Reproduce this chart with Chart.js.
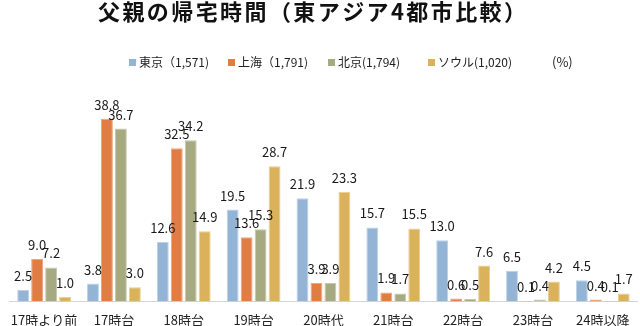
<!DOCTYPE html>
<html><head><meta charset="utf-8">
<script src="https://cdn.jsdelivr.net/npm/chart.js@4"></script>
<style>html,body{margin:0;padding:0;background:#fff}#wrap{width:640px;height:326px}</style>
</head><body><div id="wrap"><canvas id="c" width="640" height="326"></canvas></div>
<script>
const title = '父親の帰宅時間（東アジア4都市比較）';
const unitLabel = '(%)';
const categories = ['17時より前','17時台','18時台','19時台','20時代','21時台','22時台','23時台','24時以降'];
const seriesNames = ['東京（1,571)','上海（1,791)','北京(1,794)','ソウル(1,020)'];
const tokyo    = [2.5, 3.8, 12.6, 19.5, 21.9, 15.7, 13.0, 6.5, 4.5];
const shanghai = [9.0, 38.8, 32.5, 13.6, 3.9, 1.9, 0.6, 0.1, 0.4];
const beijing  = [7.2, 36.7, 34.2, 15.3, 3.9, 1.7, 0.5, 0.4, 0.1];
const seoul    = [1.0, 3.0, 14.9, 28.7, 23.3, 15.5, 7.6, 4.2, 1.7];

const FONT = '"Noto Sans CJK JP", "Noto Sans", sans-serif';
const fills = ['#93B4D4','#E07D45','#A5AA80','#D9B25B'];
const borders = ['#BDD2E6','#EDA57C','#C6CAAB','#EACF8E'];
const series = [tokyo, shanghai, beijing, seoul];

const overlay = {
  id: 'overlay',
  afterDraw(chart) {
    const ctx = chart.ctx;
    ctx.save();
    // title
    ctx.fillStyle = '#111';
    ctx.font = 'bold 22px ' + FONT;
    const w = ctx.measureText(title).width;
    const ls = Math.max(0, (428 - w) / (title.length - 1));
    ctx.letterSpacing = ls + 'px';
    ctx.textAlign = 'left';
    ctx.textBaseline = 'middle';
    ctx.fillText(title, 98, 12);
    ctx.letterSpacing = '0px';
    // legend
    const lx = [129, 228, 328, 428];
    ctx.font = '12px ' + FONT;
    chart.data.datasets.forEach((ds, i) => {
      ctx.fillStyle = ds.backgroundColor;
      ctx.fillRect(lx[i], 59, 7, 7);
      ctx.fillStyle = '#222';
      ctx.fillText(ds.label, lx[i] + 10, 62);
    });
    ctx.font = '13px ' + FONT;
    ctx.fillText(unitLabel, 552, 62);
    // data labels
    ctx.font = '13px ' + FONT;
    ctx.textAlign = 'center';
    ctx.textBaseline = 'alphabetic';
    ctx.fillStyle = '#1a1a1a';
    chart.data.datasets.forEach((ds, i) => {
      const meta = chart.getDatasetMeta(i);
      meta.data.forEach((bar, j) => {
        ctx.fillText(ds.data[j].toFixed(1), bar.x, bar.y - 9);
      });
    });
    ctx.restore();
  }
};

new Chart(document.getElementById('c'), {
  type: 'bar',
  data: {
    labels: categories,
    datasets: series.map((d, i) => ({
      label: seriesNames[i],
      data: d,
      backgroundColor: fills[i],
      borderColor: borders[i],
      borderWidth: 1,
      categoryPercentage: 0.8,
      barPercentage: 0.85
    }))
  },
  options: {
    responsive: false,
    animation: false,
    devicePixelRatio: 1,
    layout: { padding: { top: 113, left: 0, right: 0, bottom: -13 } },
    plugins: { legend: { display: false }, title: { display: false }, tooltip: { enabled: false } },
    scales: {
      x: {
        grid: { display: false, drawTicks: false },
        border: { display: true, color: '#D4D4D4', width: 1 },
        ticks: { color: '#222', font: { family: FONT, size: 13 }, padding: 11, maxRotation: 0, autoSkip: false }
      },
      y: { display: false, min: 0, max: 40 }
    }
  },
  plugins: [overlay]
});
</script></body></html>
